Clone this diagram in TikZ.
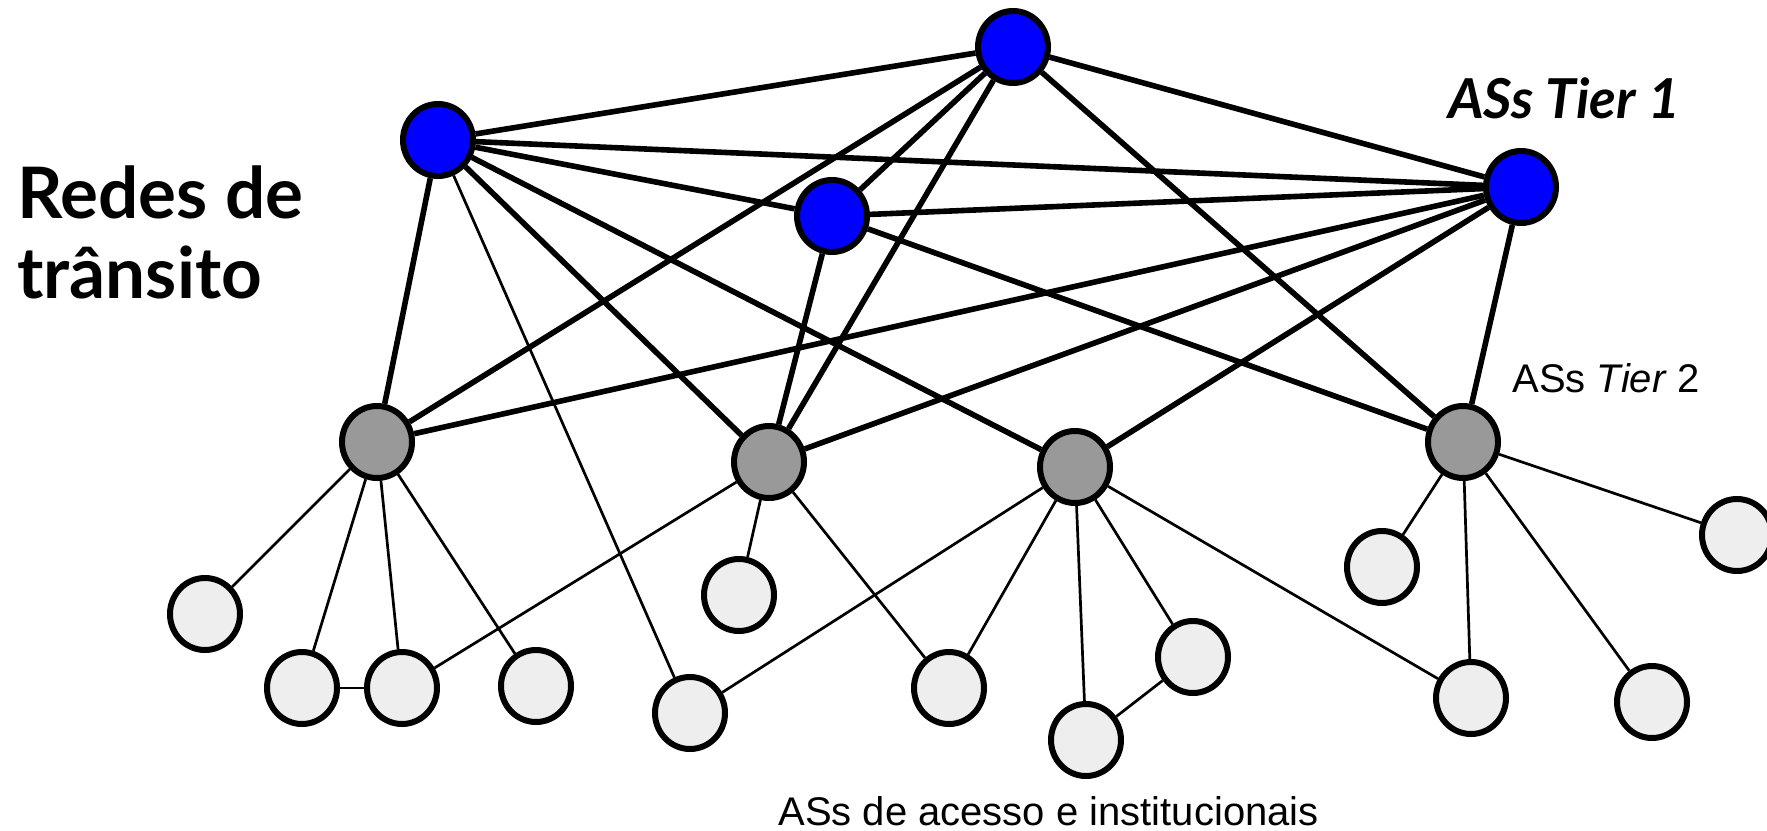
\documentclass[tikz,border=0pt]{standalone}
\usepackage{fontspec}
\setmainfont{Liberation Sans}
\newfontfamily\comicfont{Lato}
\usetikzlibrary{backgrounds,shapes.geometric}
\definecolor{tierone}{HTML}{0000FF}
\definecolor{tiertwo}{HTML}{999999}
\definecolor{leaf}{HTML}{EEEEEE}
\tikzset{
  asnode/.style={ellipse, draw=black, line width=3pt, minimum width=35pt, minimum height=36pt, inner sep=0pt},
  t1/.style={asnode, fill=tierone},
  t2/.style={asnode, fill=tiertwo},
  lf/.style={asnode, fill=leaf},
  thickedge/.style={line width=2.8pt},
  thinedge/.style={line width=1.35pt},
  lbl/.style={inner sep=0pt, anchor=base west}
}
\begin{document}
\begin{tikzpicture}[x=0.5pt,y=-0.5pt]
\useasboundingbox (0,0) rectangle (1767,830);
% Tier 1
\node[t1] (A) at (438,140) {};
\node[t1] (B) at (1013,47) {};
\node[t1] (C) at (832,216) {};
\node[t1] (D) at (1521,187) {};
% Tier 2
\node[t2] (G1) at (377,442) {};
\node[t2] (G2) at (769,462) {};
\node[t2] (G3) at (1075,467) {};
\node[t2] (G4) at (1463,442) {};
% leaves
\node[lf] (L1) at (205,614) {};
\node[lf] (L2) at (302,688) {};
\node[lf] (L3) at (402,688) {};
\node[lf] (L4) at (536,686) {};
\node[lf] (L5) at (739,595) {};
\node[lf] (L6) at (690,713) {};
\node[lf] (L7) at (949,688) {};
\node[lf] (L8) at (1086,740) {};
\node[lf] (L9) at (1193,657) {};
\node[lf] (L10) at (1382,567) {};
\node[lf] (L11) at (1471,698) {};
\node[lf] (L12) at (1652,702) {};
\node[lf] (L13) at (1737,535) {};
\begin{scope}[on background layer]
% tier 1 mesh and uplinks
\draw[thickedge] (A) -- (B);
\draw[thickedge] (A) -- (C);
\draw[thickedge] (A) -- (D);
\draw[thickedge] (B) -- (C);
\draw[thickedge] (B) -- (D);
\draw[thickedge] (C) -- (D);
\draw[thickedge] (A) -- (G1);
\draw[thickedge] (A) -- (G2);
\draw[thickedge] (A) -- (G3);
\draw[thickedge] (B) -- (G1);
\draw[thickedge] (B) -- (G2);
\draw[thickedge] (B) -- (G4);
\draw[thickedge] (C) -- (G2);
\draw[thickedge] (C) -- (G4);
\draw[thickedge] (D) -- (G1);
\draw[thickedge] (D) -- (G2);
\draw[thickedge] (D) -- (G3);
\draw[thickedge] (D) -- (G4);
% access links
\draw[thinedge] (A) -- (L6);
\draw[thinedge] (G1) -- (L1);
\draw[thinedge] (G1) -- (L2);
\draw[thinedge] (G1) -- (L3);
\draw[thinedge] (G1) -- (L4);
\draw[thinedge] (G2) -- (L3);
\draw[thinedge] (G2) -- (L5);
\draw[thinedge] (G2) -- (L7);
\draw[thinedge] (G3) -- (L6);
\draw[thinedge] (G3) -- (L7);
\draw[thinedge] (G3) -- (L8);
\draw[thinedge] (G3) -- (L9);
\draw[thinedge] (G3) -- (L11);
\draw[thinedge] (G4) -- (L10);
\draw[thinedge] (G4) -- (L11);
\draw[thinedge] (G4) -- (L12);
\draw[thinedge] (G4) -- (L13);
\draw[thinedge] (L2) -- (L3);
\draw[thinedge] (L8) -- (L9);
\end{scope}
% labels
\node[lbl, font=\comicfont\bfseries\fontsize{35.5}{40}\selectfont] (t1) at (17,218) {Redes de};
\node[lbl, font=\comicfont\bfseries\fontsize{35.5}{40}\selectfont] (t2) at (17,298) {trânsito};
\node[lbl, font=\comicfont\bfseries\itshape\fontsize{27.5}{32}\selectfont] (tier1) at (1448,118) {ASs Tier 1};
\node[lbl, font=\fontsize{20}{24}\selectfont] (tier2) at (1512,392) {ASs \textit{Tier} 2};
\node[lbl, font=\fontsize{20}{24}\selectfont] (acc) at (778,825) {ASs de acesso e institucionais};
\end{tikzpicture}
\end{document}
